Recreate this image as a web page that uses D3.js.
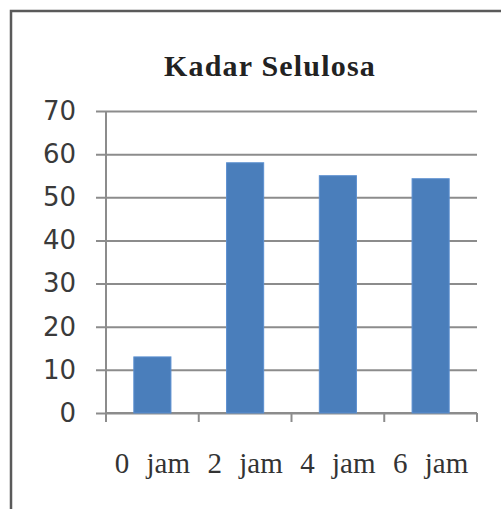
<!DOCTYPE html>
<meta charset="utf-8">
<style>
body { margin: 0; background: #fff; }
.grid line { stroke: #8c8c8c; stroke-width: 2; }
.grid text { font: 26px "DejaVu Sans", sans-serif; fill: #3a3a3a; }
.xlab text { font: 29px "Liberation Serif", serif; fill: #333; word-spacing: 10px; }
</style>
<svg width="501" height="509"></svg>
<script src="https://d3js.org/d3.v7.min.js"></script>
<script>

var categories = ["0 jam", "2 jam", "4 jam", "6 jam"];
var values = [13, 58, 55, 54.3];
var yTicks = [0, 10, 20, 30, 40, 50, 60, 70];
var title = "Kadar Selulosa";

var svg = d3.select("svg");

var x = d3.scaleBand()
    .domain(categories)
    .range([106, 477])
    .paddingInner(0.6)
    .paddingOuter(0.3);

var y = d3.scaleLinear()
    .domain([0, 70])
    .range([413, 111]);

// outer frame (only top and left edges show)
svg.append("path")
    .attr("d", "M11,509V11H501")
    .attr("fill", "none")
    .attr("stroke", "#5a5a5a")
    .attr("stroke-width", 2.5);

svg.append("text")
    .attr("x", 270)
    .attr("y", 76)
    .attr("text-anchor", "middle")
    .style("font", "bold 30px 'Liberation Serif', serif")
    .style("letter-spacing", "1.2px")
    .style("fill", "#222")
    .text(title);

// gridlines + y labels, drawn from the right edge back to the tick start
svg.append("g")
    .attr("class", "grid")
    .attr("transform", "translate(477,0)")
    .call(d3.axisLeft(y).tickValues(yTicks).tickSize(381).tickPadding(20))
    .call(function(g) { g.select(".domain").remove(); });

// y axis line
svg.append("line")
    .attr("x1", 106).attr("x2", 106)
    .attr("y1", y(70)).attr("y2", y(0) + 9)
    .attr("stroke", "#8c8c8c")
    .attr("stroke-width", 2);

// x axis line and category boundary ticks
svg.append("line")
    .attr("x1", 106).attr("x2", 477)
    .attr("y1", y(0)).attr("y2", y(0))
    .attr("stroke", "#8c8c8c")
    .attr("stroke-width", 2);

svg.append("g")
  .selectAll("line")
  .data(d3.range(categories.length + 1))
  .enter().append("line")
    .attr("x1", function(i) { return x.range()[0] + i * x.step(); })
    .attr("x2", function(i) { return x.range()[0] + i * x.step(); })
    .attr("y1", y(0))
    .attr("y2", y(0) + 9)
    .attr("stroke", "#8c8c8c")
    .attr("stroke-width", 2);

svg.append("g")
  .selectAll("rect")
  .data(values)
  .enter().append("rect")
    .attr("x", function(d, i) { return x(categories[i]); })
    .attr("y", function(d) { return y(d); })
    .attr("width", x.bandwidth())
    .attr("height", function(d) { return y(0) - y(d); })
    .attr("fill", "#4a7ebb")
    .attr("stroke", "#5b8fd0")
    .attr("stroke-width", 1);

svg.append("g")
    .attr("class", "xlab")
    .attr("transform", "translate(0," + y(0) + ")")
    .call(d3.axisBottom(x).tickSize(0))
    .call(function(g) {
      g.select(".domain").remove();
      g.selectAll("text").attr("y", 60).attr("dy", 0);
    });

</script>
